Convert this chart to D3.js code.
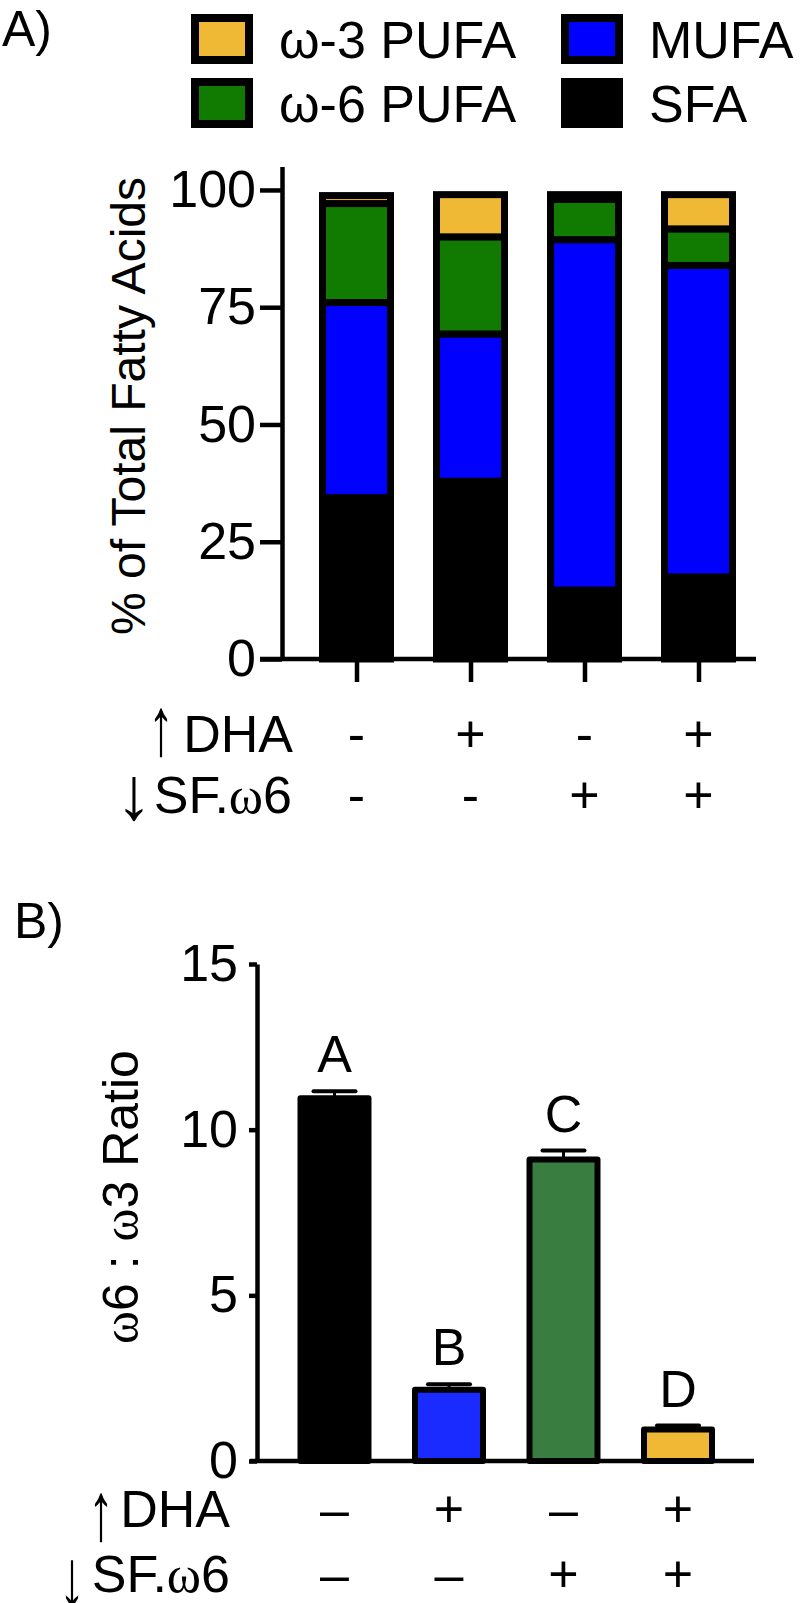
<!DOCTYPE html>
<html>
<head>
<meta charset="utf-8">
<script src="https://cdn.jsdelivr.net/npm/d3@7"></script>
<style>
  body { margin: 0; background: #fff; }
  svg text { font-family: "Liberation Sans", Arial, sans-serif; fill: #000; }
</style>
</head>
<body>
<svg id="chart" width="800" height="1603"></svg>
<script>
// ---- data ----
var groups = ["g1", "g2", "g3", "g4"];
var dhaSigns = ["-", "+", "-", "+"];
var sfSigns = ["-", "-", "+", "+"];

// panel A, % of total fatty acids (stacked bottom -> top)
var sfa  = [34.4, 37.9, 14.7, 17.5];
var mufa = [41.6, 31.4, 74.7, 66.4];
var n6   = [21.1, 20.7, 8.6, 7.8];
var n3   = [1.7, 9.0, 1.0, 7.3];
var seriesKeys = ["sfa", "mufa", "n6", "n3"];
var seriesColors = { sfa: "#000000", mufa: "#0000ff", n6: "#117a00", n3: "#f0b935" };
var yTicksA = [0, 25, 50, 75, 100];

// panel B, w6:w3 ratio
var ratioMean = [10.95, 2.15, 9.1, 0.95];
var ratioSem = [0.21, 0.17, 0.27, 0.12];
var ratioLetters = ["A", "B", "C", "D"];
var ratioColors = ["#000000", "#1a2bff", "#3a7d41", "#f0b935"];
var yTicksB = [0, 5, 10, 15];

var svg = d3.select("#chart");
var FS = 52;

// arrows are tall, thin glyphs in the original: stretch the glyph vertically
// (ink of the arrow glyph is roughly 0.59em tall, sitting just on the baseline)
function arrow(ch, cx, yBottom, h, sx) {
  var sy = h / (0.59 * FS);
  svg.append("text")
    .attr("transform", "translate(" + cx + "," + yBottom + ") scale(" + (sx || 1) + "," + sy + ")")
    .attr("y", 0.03 * FS)
    .attr("text-anchor", "middle")
    .style("font-size", FS + "px")
    .text(ch);
}

// ================= Panel A =================
var rows = groups.map(function (g, i) {
  return { g: g, sfa: sfa[i], mufa: mufa[i], n6: n6[i], n3: n3[i] };
});
var stacked = d3.stack().keys(seriesKeys)(rows);

var xA = d3.scalePoint().domain(groups).range([356.5, 698.5]);
var yA = d3.scaleLinear().domain([0, 105]).range([659, 166.5]);
var barWA = 68;

svg.append("text").attr("x", 2).attr("y", 46).style("font-size", "50px").text("A)");

// legend
var legend = [
  { key: "n3", label: "\u03c9-3 PUFA", col: 0, row: 0 },
  { key: "mufa", label: "MUFA", col: 1, row: 0 },
  { key: "n6", label: "\u03c9-6 PUFA", col: 0, row: 1 },
  { key: "sfa", label: "SFA", col: 1, row: 1 }
];
var lg = svg.append("g").selectAll("g").data(legend).enter().append("g")
  .attr("transform", function (d) { return "translate(" + (d.col ? 561 : 191) + "," + (d.row ? 78 : 14) + ")"; });
lg.append("rect")
  .attr("x", 4).attr("y", 4).attr("width", 54).attr("height", 42)
  .attr("fill", function (d) { return seriesColors[d.key]; })
  .attr("stroke", "#000").attr("stroke-width", 8);
lg.append("text")
  .attr("x", 88).attr("y", 44)
  .style("font-size", FS + "px")
  .text(function (d) { return d.label; });

// bars
svg.append("g").selectAll("g").data(stacked).enter().append("g")
  .attr("fill", function (d) { return seriesColors[d.key]; })
  .selectAll("rect").data(function (d) { return d; }).enter().append("rect")
    .attr("x", function (d) { return xA(d.data.g) - barWA / 2; })
    .attr("y", function (d) { return yA(d[1]); })
    .attr("width", barWA)
    .attr("height", function (d) { return yA(d[0]) - yA(d[1]); })
    .attr("stroke", "#000").attr("stroke-width", 7);

// y axis
var axA = svg.append("g").attr("transform", "translate(282,0)")
  .call(d3.axisLeft(yA).tickValues(yTicksA).tickSize(22).tickSizeOuter(0).tickPadding(4));
axA.select(".domain").attr("stroke-width", 4.5);
axA.selectAll(".tick line").attr("stroke-width", 4.5);
axA.selectAll(".tick text").style("font-size", FS + "px").style("font-family", "Liberation Sans, Arial, sans-serif");

// x axis
svg.append("line").attr("x1", 260).attr("x2", 756).attr("y1", yA(0)).attr("y2", yA(0))
  .attr("stroke", "#000").attr("stroke-width", 4.5);
var xaxA = svg.append("g").attr("transform", "translate(0," + yA(0) + ")")
  .call(d3.axisBottom(xA).tickSize(23).tickSizeOuter(0).tickFormat(""));
xaxA.select(".domain").remove();
xaxA.selectAll(".tick line").attr("stroke-width", 4.5);

svg.append("text")
  .attr("transform", "translate(145,406) rotate(-90)")
  .attr("text-anchor", "middle")
  .style("font-size", "48px")
  .text("% of Total Fatty Acids");

// treatment rows
function signRow(scale, signs, y) {
  svg.append("g").selectAll("text").data(groups).enter().append("text")
    .attr("x", function (g) { return scale(g); })
    .attr("y", y)
    .attr("text-anchor", "middle")
    .style("font-size", FS + "px")
    .text(function (g, i) { return signs[i]; });
}
svg.append("text").attr("x", 293).attr("y", 752).attr("text-anchor", "end")
  .style("font-size", FS + "px").text("DHA");
arrow("\u2191", 161, 752, 49);
var sfA = svg.append("text").attr("x", 292).attr("y", 813).attr("text-anchor", "end")
  .style("font-size", FS + "px");
sfA.append("tspan").text("SF.");
sfA.append("tspan").style("font-family", "Liberation Serif, serif").text("\u03c9");
sfA.append("tspan").text("6");
arrow("\u2193", 134, 817, 44, 1.4);
signRow(xA, dhaSigns, 752);
signRow(xA, sfSigns, 813);

// ================= Panel B =================
var xB = d3.scalePoint().domain(groups).range([334.5, 678]);
var yB = d3.scaleLinear().domain([0, 15]).range([1461, 964]);
var barWB = 68;

svg.append("text").attr("x", 14).attr("y", 938).style("font-size", "50px").text("B)");

var gB = svg.append("g");
gB.selectAll("rect").data(groups).enter().append("rect")
  .attr("x", function (g) { return xB(g) - barWB / 2; })
  .attr("y", function (g, i) { return yB(ratioMean[i]); })
  .attr("width", barWB)
  .attr("height", function (g, i) { return yB(0) - yB(ratioMean[i]); })
  .attr("fill", function (g, i) { return ratioColors[i]; })
  .attr("stroke", "#000").attr("stroke-width", 6).attr("stroke-linejoin", "round");

// error bars
gB.selectAll("line.err").data(groups).enter().append("line")
  .attr("class", "err")
  .attr("x1", function (g) { return xB(g); }).attr("x2", function (g) { return xB(g); })
  .attr("y1", function (g, i) { return yB(ratioMean[i]); })
  .attr("y2", function (g, i) { return yB(ratioMean[i] + ratioSem[i]); })
  .attr("stroke", "#000").attr("stroke-width", 3);
gB.selectAll("line.cap").data(groups).enter().append("line")
  .attr("class", "cap")
  .attr("x1", function (g) { return xB(g) - 21; }).attr("x2", function (g) { return xB(g) + 21; })
  .attr("y1", function (g, i) { return yB(ratioMean[i] + ratioSem[i]); })
  .attr("y2", function (g, i) { return yB(ratioMean[i] + ratioSem[i]); })
  .attr("stroke", "#000").attr("stroke-width", 4).attr("stroke-linecap", "round");

gB.selectAll("text.letter").data(groups).enter().append("text")
  .attr("class", "letter")
  .attr("x", function (g) { return xB(g); })
  .attr("y", function (g, i) { return yB(ratioMean[i] + ratioSem[i]) - 19; })
  .attr("text-anchor", "middle")
  .style("font-size", FS + "px")
  .text(function (g, i) { return ratioLetters[i]; });

var axB = svg.append("g").attr("transform", "translate(257,0)")
  .call(d3.axisLeft(yB).tickValues(yTicksB).tickSize(8).tickSizeOuter(0).tickPadding(11));
axB.select(".domain").attr("stroke-width", 4.5);
axB.selectAll(".tick line").attr("stroke-width", 4.5);
axB.selectAll(".tick text").style("font-size", FS + "px").style("font-family", "Liberation Sans, Arial, sans-serif");

svg.append("line").attr("x1", 250).attr("x2", 754).attr("y1", yB(0)).attr("y2", yB(0))
  .attr("stroke", "#000").attr("stroke-width", 4.5);

var titleB = svg.append("text")
  .attr("transform", "translate(138,1197) rotate(-90)")
  .attr("text-anchor", "middle")
  .style("font-size", "50px");
titleB.append("tspan").style("font-family", "Liberation Serif, serif").text("\u03c9");
titleB.append("tspan").text("6 : ");
titleB.append("tspan").style("font-family", "Liberation Serif, serif").text("\u03c9");
titleB.append("tspan").text("3 Ratio");

svg.append("text").attr("x", 230).attr("y", 1527).attr("text-anchor", "end")
  .style("font-size", FS + "px").text("DHA");
arrow("\u2191", 101, 1537, 49);
var sfB = svg.append("text").attr("x", 230).attr("y", 1592).attr("text-anchor", "end")
  .style("font-size", FS + "px");
sfB.append("tspan").text("SF.");
sfB.append("tspan").style("font-family", "Liberation Serif, serif").text("\u03c9");
sfB.append("tspan").text("6");
arrow("\u2193", 72, 1604, 49);

signRow(xB, dhaSigns.map(function (s) { return s === "-" ? "\u2013" : s; }), 1527);
signRow(xB, sfSigns.map(function (s) { return s === "-" ? "\u2013" : s; }), 1592);
</script>
</body>
</html>
